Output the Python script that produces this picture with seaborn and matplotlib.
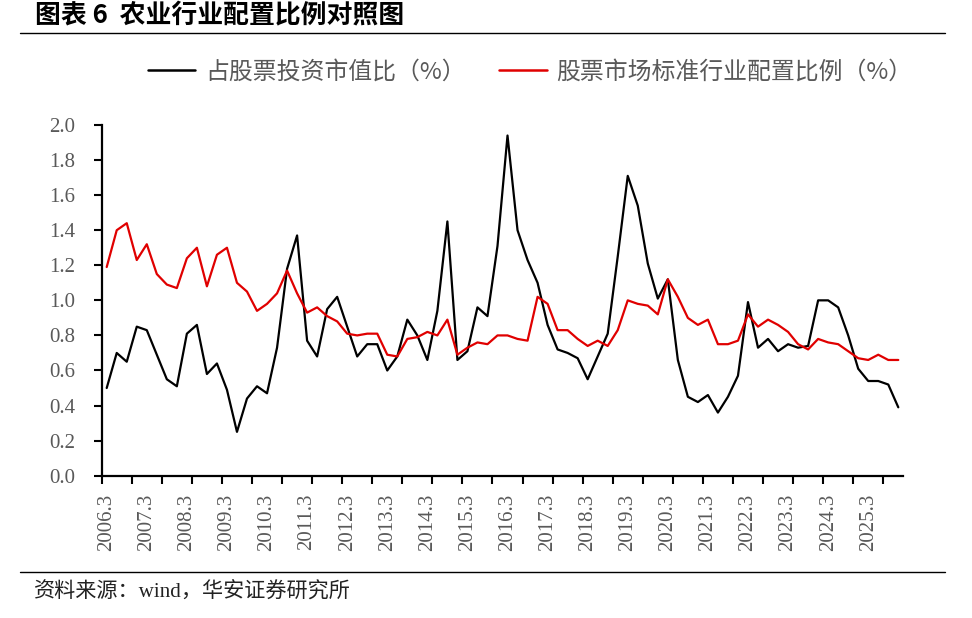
import matplotlib
matplotlib.use("Agg")
import matplotlib.pyplot as plt
from matplotlib.lines import Line2D
from matplotlib.ticker import FixedLocator, FormatStrFormatter
import numpy as np
import pandas as pd
import seaborn as sns

# ---------------- data ----------------
quarters = [f"{y}.{m}" for y in range(2006, 2026) for m in (3, 6, 9, 12)]

stock_share = [
    0.50, 0.70, 0.65, 0.85, 0.83, 0.69, 0.55, 0.51, 0.81, 0.86,
    0.58, 0.64, 0.49, 0.25, 0.44, 0.51, 0.47, 0.73, 1.18, 1.37,
    0.77, 0.68, 0.95, 1.02, 0.85, 0.68, 0.75, 0.75, 0.60, 0.68,
    0.89, 0.80, 0.66, 0.94, 1.45, 0.66, 0.71, 0.96, 0.91, 1.31,
    1.94, 1.40, 1.23, 1.10, 0.86, 0.72, 0.70, 0.67, 0.55, 0.68,
    0.81, 1.25, 1.71, 1.54, 1.21, 1.01, 1.12, 0.66, 0.45, 0.42,
    0.46, 0.36, 0.45, 0.57, 0.99, 0.73, 0.78, 0.71, 0.75, 0.73,
    0.74, 1.00, 1.00, 0.96, 0.80, 0.61, 0.54, 0.54, 0.52, 0.39,
]

standard_alloc = [
    1.19, 1.40, 1.44, 1.23, 1.32, 1.15, 1.09, 1.07, 1.24, 1.30,
    1.08, 1.26, 1.30, 1.10, 1.05, 0.94, 0.98, 1.04, 1.17, 1.04,
    0.93, 0.96, 0.91, 0.88, 0.81, 0.80, 0.81, 0.81, 0.69, 0.68,
    0.78, 0.79, 0.82, 0.80, 0.89, 0.69, 0.73, 0.76, 0.75, 0.80,
    0.80, 0.78, 0.77, 1.02, 0.98, 0.83, 0.83, 0.78, 0.74, 0.77,
    0.74, 0.83, 1.00, 0.98, 0.97, 0.92, 1.12, 1.02, 0.90, 0.86,
    0.89, 0.75, 0.75, 0.77, 0.92, 0.85, 0.89, 0.86, 0.82, 0.75,
    0.72, 0.78, 0.76, 0.75, 0.71, 0.67, 0.66, 0.69, 0.66, 0.66,
]

series_names = ["占股票投资市值比（%）", "股票市场标准行业配置比例（%）"]
series_colors = ["#000000", "#E00000"]

xtick_labels = ["2006.3", "2007.3", "2008.3", "2009.3", "2010.3", "2011.3",
                "2012.3", "2013.3", "2014.3", "2015.3", "2016.3", "2017.3",
                "2018.3", "2019.3", "2020.3", "2021.3", "2022.3", "2023.3",
                "2024.3", "2025.3"]
ytick_values = [0.0, 0.2, 0.4, 0.6, 0.8, 1.0, 1.2, 1.4, 1.6, 1.8, 2.0]

title_text = "图表 6  农业行业配置比例对照图"
source_text = "资料来源：wind，华安证券研究所"

# ---------------- build frame ----------------
df = pd.DataFrame({
    "pos": list(range(len(quarters))) * 2,
    "quarter": quarters * 2,
    "value": stock_share + standard_alloc,
    "series": [series_names[0]] * len(quarters) + [series_names[1]] * len(quarters),
})

sns.set_theme(style="ticks")
plt.rcParams["font.family"] = ["Noto Sans CJK SC", "DejaVu Sans"]
plt.rcParams["axes.unicode_minus"] = False

fig = plt.figure(figsize=(9.72, 6.18), dpi=100)
ax = fig.add_axes([101.7 / 972, 1 - 475.7 / 618, (903.3 - 101.7) / 972, (475.7 - 125) / 618])

sns.lineplot(data=df, x="pos", y="value", hue="series", hue_order=series_names,
             palette=series_colors, linewidth=1.6, ax=ax, legend=True, sort=False)

n = len(quarters)
ax.set_xlim(-0.5, n - 0.5)
ax.set_ylim(0, 2.0)
ax.set_xlabel("")
ax.set_ylabel("")

# y axis
ax.yaxis.set_major_locator(FixedLocator(ytick_values))
ax.yaxis.set_major_formatter(FormatStrFormatter("%.1f"))
ax.tick_params(axis="y", which="major", length=6, width=1.5, pad=13,
               colors="black", labelcolor="#595959", labelsize=15)

# x axis: labels at category centres, tick marks at category boundaries
label_pos = [quarters.index(lbl) for lbl in xtick_labels]
ax.set_xticks(label_pos)
ax.set_xticklabels(xtick_labels, rotation=90, family="Liberation Serif")
ax.tick_params(axis="x", which="major", length=0, pad=13,
               labelcolor="#595959", labelsize=15)
ax.set_xticks(np.arange(-0.5, n - 1, 3), minor=True)
ax.tick_params(axis="x", which="minor", length=6, width=1.5, color="black")
for lbl in ax.get_yticklabels():
    lbl.set_family("Liberation Serif")

for side in ["top", "right"]:
    ax.spines[side].set_visible(False)
for side in ["left", "bottom"]:
    ax.spines[side].set_linewidth(1.6)
    ax.spines[side].set_color("black")
ax.grid(False)

# legend
handles, labels = ax.get_legend_handles_labels()
leg = ax.legend(handles, labels, loc="center",
                bbox_to_anchor=(530 / 972, 1 - 72 / 618), bbox_transform=fig.transFigure,
                ncol=2, frameon=False, fontsize=17.2, handlelength=2.0,
                handletextpad=0.4, columnspacing=1.4)
for t in leg.get_texts():
    t.set_color("#595959")
for h in leg.legend_handles:
    h.set_linewidth(1.8)

# title, rules and source
fig.text(35 / 972, 1 - 16 / 618, title_text, fontsize=18.6, fontweight="bold",
         ha="left", va="center", color="black")
fig.add_artist(Line2D([20 / 972, 945 / 972], [1 - 33.3 / 618] * 2,
                      color="black", linewidth=1.0))
fig.add_artist(Line2D([20 / 972, 945 / 972], [1 - 571.7 / 618] * 2,
                      color="black", linewidth=1.0))
fig.text(34 / 972, 1 - 592 / 618, source_text, fontsize=15.2,
         family=["Liberation Serif", "Noto Sans CJK SC"],
         ha="left", va="center", color="#222222")

fig.savefig("out.png", dpi=100, facecolor="white")
